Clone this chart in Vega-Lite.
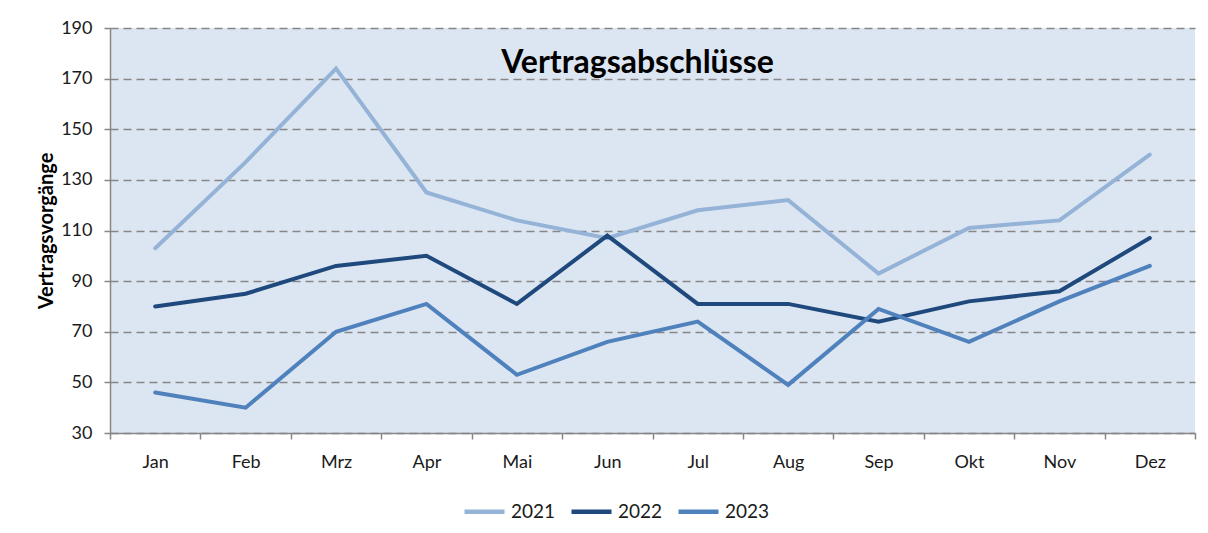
{
  "$schema": "https://vega.github.io/schema/vega-lite/v6.json",
  "autosize": {"type": "none"},
  "width": 1085,
  "height": 405,
  "padding": {"left": 110, "top": 28, "right": 13, "bottom": 100},
  "background": "white",
  "title": {"text": "Vertragsabschlüsse", "font": "Lato", "fontSize": 32, "fontWeight": "bold", "color": "#000000", "anchor": "middle", "orient": "top", "offset": -93, "dx": -15, "baseline": "bottom"},
  "data": {"values": [
    {"m": "Jan", "y": "2021", "v": 103}, {"m": "Feb", "y": "2021", "v": 137}, {"m": "Mrz", "y": "2021", "v": 174}, {"m": "Apr", "y": "2021", "v": 125},
    {"m": "Mai", "y": "2021", "v": 114}, {"m": "Jun", "y": "2021", "v": 107}, {"m": "Jul", "y": "2021", "v": 118}, {"m": "Aug", "y": "2021", "v": 122},
    {"m": "Sep", "y": "2021", "v": 93}, {"m": "Okt", "y": "2021", "v": 111}, {"m": "Nov", "y": "2021", "v": 114}, {"m": "Dez", "y": "2021", "v": 140},
    {"m": "Jan", "y": "2022", "v": 80}, {"m": "Feb", "y": "2022", "v": 85}, {"m": "Mrz", "y": "2022", "v": 96}, {"m": "Apr", "y": "2022", "v": 100},
    {"m": "Mai", "y": "2022", "v": 81}, {"m": "Jun", "y": "2022", "v": 108}, {"m": "Jul", "y": "2022", "v": 81}, {"m": "Aug", "y": "2022", "v": 81},
    {"m": "Sep", "y": "2022", "v": 74}, {"m": "Okt", "y": "2022", "v": 82}, {"m": "Nov", "y": "2022", "v": 86}, {"m": "Dez", "y": "2022", "v": 107},
    {"m": "Jan", "y": "2023", "v": 46}, {"m": "Feb", "y": "2023", "v": 40}, {"m": "Mrz", "y": "2023", "v": 70}, {"m": "Apr", "y": "2023", "v": 81},
    {"m": "Mai", "y": "2023", "v": 53}, {"m": "Jun", "y": "2023", "v": 66}, {"m": "Jul", "y": "2023", "v": 74}, {"m": "Aug", "y": "2023", "v": 49},
    {"m": "Sep", "y": "2023", "v": 79}, {"m": "Okt", "y": "2023", "v": 66}, {"m": "Nov", "y": "2023", "v": 82}, {"m": "Dez", "y": "2023", "v": 96}
  ]},
  "mark": {"type": "line", "strokeWidth": 4, "strokeCap": "round", "strokeJoin": "miter"},
  "encoding": {
    "x": {
      "field": "m", "type": "nominal",
      "sort": ["Jan", "Feb", "Mrz", "Apr", "Mai", "Jun", "Jul", "Aug", "Sep", "Okt", "Nov", "Dez"],
      "scale": {"type": "band", "paddingInner": 0, "paddingOuter": 0},
      "axis": {"title": null, "labelAngle": 0, "tickBand": "extent", "grid": false, "domainColor": "#868686", "domainWidth": 1.5, "tickColor": "#868686", "tickWidth": 1.5, "tickSize": 6, "labelFont": "Lato", "labelFontSize": 18, "labelColor": "#1a1a1a", "labelPadding": 14}
    },
    "y": {
      "field": "v", "type": "quantitative",
      "scale": {"domain": [30, 190], "nice": false, "zero": false},
      "axis": {"title": "Vertragsvorgänge", "titleFont": "Lato", "titleFontSize": 20, "titleFontWeight": "bold", "titleColor": "#000000", "titlePadding": 4, "values": [30, 50, 70, 90, 110, 130, 150, 170, 190], "grid": true, "gridColor": "#868686", "gridDash": [8, 5], "gridWidth": 1.5, "domainColor": "#868686", "domainWidth": 1.5, "tickColor": "#868686", "tickWidth": 1.5, "tickSize": 6, "labelFont": "Lato", "labelFontSize": 18, "labelColor": "#1a1a1a", "labelPadding": 12}
    },
    "color": {
      "field": "y", "type": "nominal",
      "scale": {"domain": ["2021", "2022", "2023"], "range": ["#95B3D7", "#1F497D", "#4F81BD"]},
      "legend": {"title": null, "orient": "none", "direction": "horizontal", "legendX": 352, "legendY": 461, "symbolType": "stroke", "symbolSize": 1600, "symbolStrokeWidth": 4.5, "labelFont": "Lato", "labelFontSize": 19, "labelColor": "#1a1a1a", "labelOffset": 4, "columnPadding": 6}
    }
  },
  "config": {
    "view": {"fill": "#DCE6F2", "stroke": null}
  }
}
